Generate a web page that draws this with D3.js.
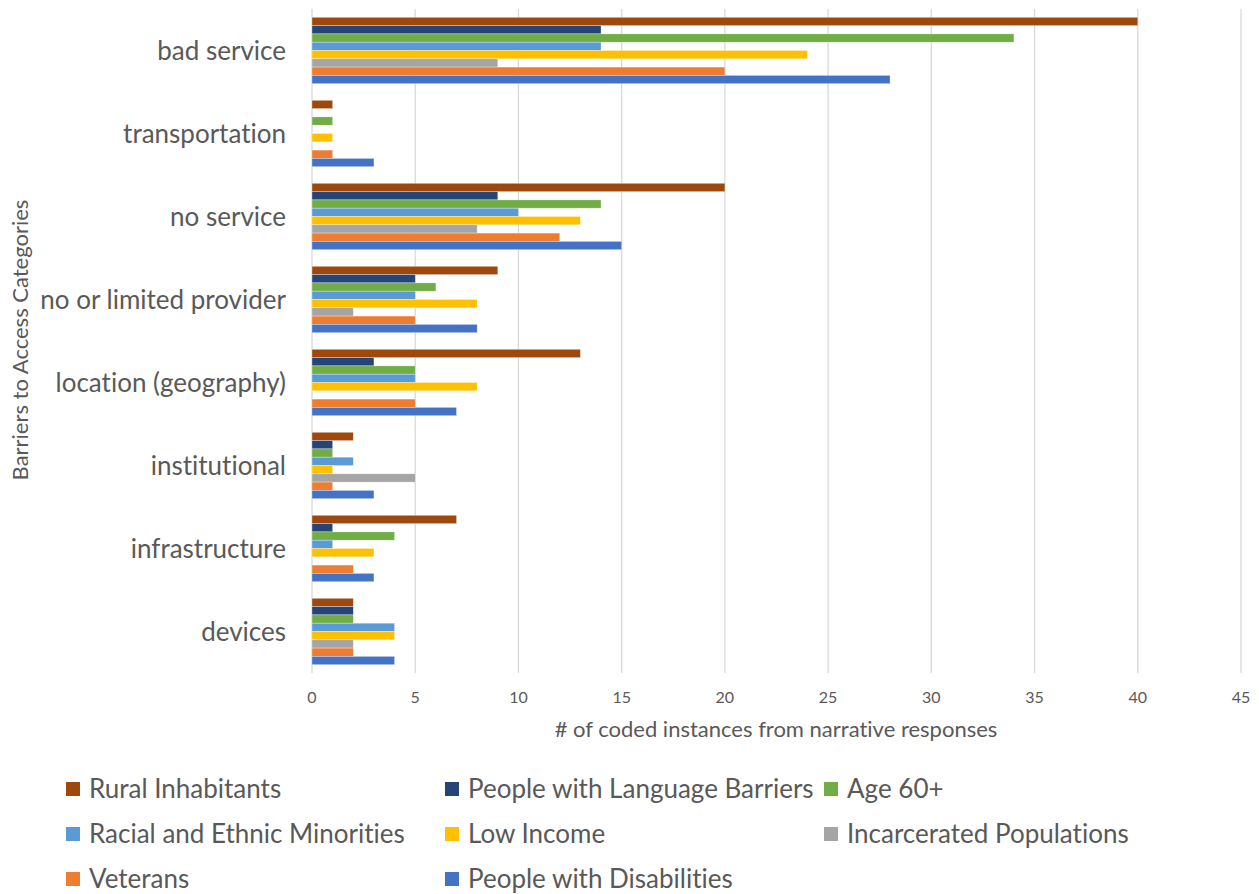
<!DOCTYPE html>
<html lang="en">
<head>
  <meta charset="UTF-8">
  <title>Barriers to Access Categories</title>
  <script src="https://d3js.org/d3.v7.min.js"></script>
  <style>
    body { margin: 0; background: #fff; }
    text { font-family: Lato, "Open Sans", sans-serif; fill: #595959; font-variant-ligatures: none; }
    .grid line { stroke: #d9d9d9; stroke-width: 1.3px; }
    .cat { font-size: 26px; text-anchor: end; }
    .tick-label { font-size: 16px; text-anchor: middle; }
    .axis-title { font-size: 22px; text-anchor: middle; }
    .legend text { font-size: 26px; }
  </style>
</head>
<body>
  <svg id="chart" width="1259" height="894"></svg>
  <script>
    // categories, top to bottom
    const categories = ["bad service", "transportation", "no service", "no or limited provider",
      "location (geography)", "institutional", "infrastructure", "devices"];

    // series in legend order (also top-to-bottom order inside each group)
    const seriesNames = ["Rural Inhabitants", "People with Language Barriers", "Age 60+",
      "Racial and Ethnic Minorities", "Low Income", "Incarcerated Populations",
      "Veterans", "People with Disabilities"];
    const seriesColors = ["#9e480e", "#264478", "#70ad47", "#5b9bd5", "#ffc000", "#a5a5a5", "#ed7d31", "#4472c4"];

    // values per series, in category order
    const rural       = [40, 1, 20, 9, 13, 2, 7, 2];
    const language    = [14, 0, 9, 5, 3, 1, 1, 2];
    const age60       = [34, 1, 14, 6, 5, 1, 4, 2];
    const minorities  = [14, 0, 10, 5, 5, 2, 1, 4];
    const lowIncome   = [24, 1, 13, 8, 8, 1, 3, 4];
    const incarcerated = [9, 0, 8, 2, 0, 5, 0, 2];
    const veterans    = [20, 1, 12, 5, 5, 1, 2, 2];
    const disabilities = [28, 3, 15, 8, 7, 3, 3, 4];
    const seriesValues = [rural, language, age60, minorities, lowIncome, incarcerated, veterans, disabilities];

    const xTicks = [0, 5, 10, 15, 20, 25, 30, 35, 40, 45];

    const svg = d3.select("#chart");
    svg.append("rect").attr("width", 1259).attr("height", 894).attr("fill", "#fff");

    const x = d3.scaleLinear().domain([0, 45]).range([312, 1241]);
    const y = d3.scaleBand().domain(categories).range([9, 673]).paddingInner(0.2).paddingOuter(0.1);
    const ySub = d3.scaleBand().domain(seriesNames).range([0, y.bandwidth()]);

    // gridlines
    svg.append("g").attr("class", "grid")
      .selectAll("line").data(xTicks).enter().append("line")
      .attr("x1", d => x(d)).attr("x2", d => x(d))
      .attr("y1", 9).attr("y2", 673);

    // bars
    const rows = [];
    categories.forEach((c, ci) => {
      seriesNames.forEach((s, si) => {
        rows.push({ cat: c, series: s, value: seriesValues[si][ci], color: seriesColors[si] });
      });
    });
    svg.append("g").selectAll("rect")
      .data(rows.filter(d => d.value > 0)).enter().append("rect")
      .attr("x", x(0))
      .attr("y", d => y(d.cat) + ySub(d.series))
      .attr("width", d => x(d.value) - x(0))
      .attr("height", ySub.bandwidth())
      .attr("fill", d => d.color)
      .attr("stroke", "#fff").attr("stroke-opacity", 0.5).attr("stroke-width", 0.6);

    // category labels
    svg.append("g").selectAll("text").data(categories).enter().append("text")
      .attr("class", "cat")
      .attr("x", 286)
      .attr("y", d => y(d) + y.bandwidth() / 2)
      .attr("dy", "0.35em")
      .text(d => d);

    // x tick labels
    svg.append("g").selectAll("text").data(xTicks).enter().append("text")
      .attr("class", "tick-label")
      .attr("x", d => x(d)).attr("y", 697).attr("dy", "0.35em")
      .text(d => d);

    // axis titles
    svg.append("text").attr("class", "axis-title")
      .attr("x", 776).attr("y", 729).attr("dy", "0.35em")
      .text("# of coded instances from narrative responses");
    svg.append("text").attr("class", "axis-title")
      .attr("transform", "translate(20,340) rotate(-90)").attr("dy", "0.35em")
      .text("Barriers to Access Categories");

    // legend, 3 columns
    const colX = [66, 445, 824];
    const rowY = [789, 834, 879];
    const legend = svg.append("g").attr("class", "legend")
      .selectAll("g").data(seriesNames).enter().append("g")
      .attr("transform", (d, i) => `translate(${colX[i % 3]},${rowY[Math.floor(i / 3)]})`);
    legend.append("rect").attr("x", 0).attr("y", -7).attr("width", 14).attr("height", 14)
      .attr("fill", (d, i) => seriesColors[i]);
    legend.append("text").attr("x", 23).attr("dy", "0.35em").text(d => d);
  </script>
</body>
</html>
